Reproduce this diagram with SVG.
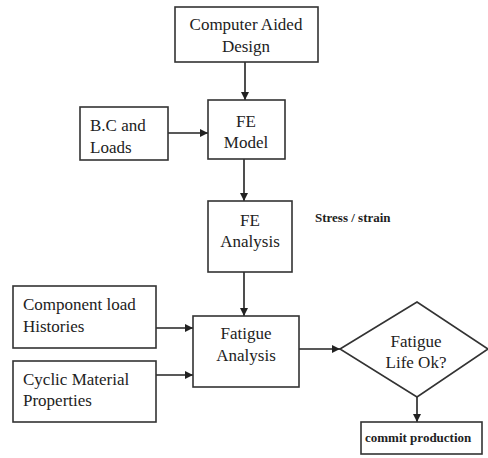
<svg xmlns="http://www.w3.org/2000/svg" width="488" height="458" viewBox="0 0 488 458" font-family="Liberation Serif, Times New Roman, serif">
<defs>
<marker id="ah" viewBox="0 0 10 10" refX="10" refY="5" markerWidth="8" markerHeight="8" markerUnits="userSpaceOnUse" orient="auto">
<path d="M0,0 L10,5 L0,10 z" fill="#222"/>
</marker>
<style>
.box{fill:#fff;stroke:#333;stroke-width:1.6}
.t{font-family:'Liberation Serif',serif;font-size:17px;fill:#222}
.c{text-anchor:middle}
.b{font-family:'Liberation Serif',serif;font-weight:bold;fill:#222}
.e{stroke:#222;stroke-width:1.6;fill:none;marker-end:url(#ah)}
</style>
</defs>
<rect width="488" height="458" fill="#fff"/>
<g id="connectors">
<line class="e" x1="245" y1="62" x2="245" y2="100"/>
<line class="e" x1="168" y1="133" x2="208" y2="133"/>
<line class="e" x1="244" y1="159" x2="244" y2="201"/>
<line class="e" x1="244" y1="272" x2="244" y2="316"/>
<line class="e" x1="156" y1="328" x2="193" y2="328"/>
<line class="e" x1="156" y1="375" x2="193" y2="375"/>
<line class="e" x1="299" y1="349" x2="340" y2="349"/>
<line class="e" x1="417" y1="397" x2="417" y2="422"/>
</g>
<g id="cad">
<rect class="box" x="175" y="7" width="143" height="55"/>
<text class="t c" x="246" y="30">Computer Aided</text>
<text class="t c" x="246" y="52">Design</text>
</g>
<g id="fe-model">
<rect class="box" x="208" y="100" width="77" height="59"/>
<text class="t c" x="246" y="127">FE</text>
<text class="t c" x="246" y="148">Model</text>
</g>
<g id="bc-loads">
<rect class="box" x="80" y="107" width="88" height="53"/>
<text class="t" x="90" y="131">B.C and</text>
<text class="t" x="90" y="153">Loads</text>
</g>
<g id="fe-analysis">
<rect class="box" x="208" y="201" width="84" height="71"/>
<text class="t c" x="250" y="226">FE</text>
<text class="t c" x="250" y="247">Analysis</text>
</g>
<g id="stress-label">
<text class="b" x="315" y="222" font-size="13">Stress / strain</text>
</g>
<g id="component-load">
<rect class="box" x="13" y="286" width="143" height="62"/>
<text class="t" x="23" y="310">Component load</text>
<text class="t" x="23" y="332">Histories</text>
</g>
<g id="cyclic-material">
<rect class="box" x="13" y="361" width="143" height="61"/>
<text class="t" x="23" y="385">Cyclic Material</text>
<text class="t" x="23" y="406">Properties</text>
</g>
<g id="fatigue-analysis">
<rect class="box" x="193" y="316" width="106" height="71"/>
<text class="t c" x="246" y="339">Fatigue</text>
<text class="t c" x="246" y="361">Analysis</text>
</g>
<g id="fatigue-life">
<polygon class="box" points="340,349 417,302 488,349 417,397"/>
<text class="t c" x="416" y="347">Fatigue</text>
<text class="t c" x="416" y="368">Life Ok?</text>
</g>
<g id="commit">
<rect class="box" x="361" y="422" width="121" height="32"/>
<text class="b" x="365" y="442" font-size="13">commit production</text>
</g>
</svg>
